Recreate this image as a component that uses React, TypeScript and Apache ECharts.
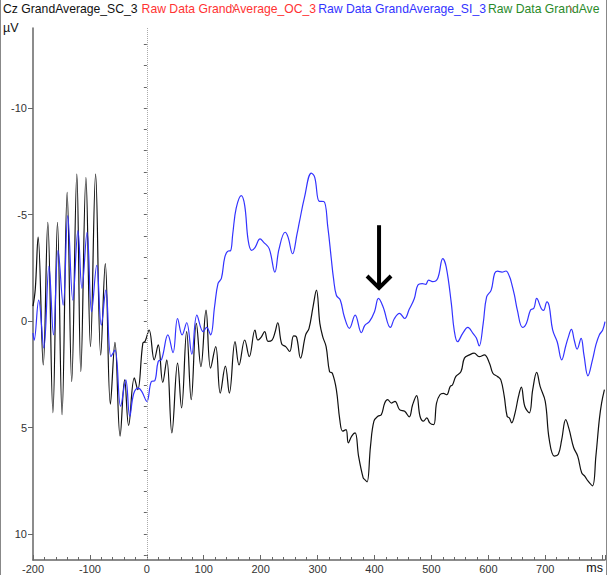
import React, { useEffect, useRef } from 'react';
import * as echarts from 'echarts';

const legendNames = ['Cz GrandAverage_SC_3', 'Raw Data GrandAverage_OC_3', 'Raw Data GrandAverage_SI_3', 'Raw Data GrandAve'];
const legendColors = ['#111111', '#ff3333', '#3333ff', '#2a8a2a'];
const yMajorTicks = [-10, -5, 0, 5, 10];
const yMinorTicks = [-13, -12, -11, -10, -9, -8, -7, -6, -5, -4, -3, -2, -1, 0, 1, 2, 3, 4, 5, 6, 7, 8, 9, 10, 11];
const xRange = [-200, 805];
const yRange = [-13.76, 11.22];

// [ms, µV]
const seriesSC: [number, number][] = [
  [-200,-0.7],[-196,-1.5],[-191,-3.94],[-182,2.06],[-174,-4.64],[-165,4.3],[-157,-4.64],[-149,4.4],[-140,-6.04],[-132,2.84],
  [-123,-6.9],[-116,2.37],[-107,-6.74],[-99,1.2],[-90,-6.9],[-81,1.6],[-73,-2.7],[-64,3.9],[-56,1.0],[-47,5.4],
  [-39,2.76],[-32,4.9],[-22,2.67],[-16,3.22],[-7,1.04],[-3,0.95],[4,0.42],[13,1.82],[20,1.12],[28,2.88],
  [35,1.82],[44,5.25],[54,1.98],[61,4.08],[70,0.5],[78,3.69],[87,0.11],[95,2.14],[104,-0.51],[112,2.21],
  [121,1.2],[129,3.38],[138,2.12],[145,3.38],[155,0.97],[162,2.06],[172,0.89],[180,1.67],[190,0.42],[195,0.89],
  [201,0.75],[207,0.5],[213,0.95],[220,0.89],[225,0.55],[230,0.08],[237,1.08],[244,1.2],[251,1.43],[258,0.7],
  [263,0.75],[270,1.74],[279,0.65],[285,0.34],[292,-0.67],[298,-1.45],[304,0.11],[309,0.73],[315,1.2],[321,2.37],
  [326,2.45],[333,3.22],[339,4.63],[344,5.17],[350,5.1],[354,5.72],[360,5.4],[366,5.25],[372,6.34],[380,7.35],
  [383,7.45],[387,7.55],[393,5.87],[399,4.7],[406,4.47],[412,4.4],[418,3.85],[423,3.69],[430,3.85],[436,3.77],
  [444,4.16],[453,4.24],[461,4.5],[467,3.93],[474,3.5],[480,4.47],[486,4.7],[492,4.55],[497,4.78],[504,4.86],
  [509,3.85],[515,3.46],[521,3.4],[527,3.46],[533,3.07],[537,3.0],[543,2.6],[552,2.37],[558,1.74],[567,1.59],
  [575,1.51],[584,1.67],[593,1.59],[602,1.98],[608,2.45],[616,2.6],[622,2.76],[628,3.54],[633,4.47],[637,4.55],
  [641,4.78],[647,4.31],[653,3.54],[658,3.1],[664,4.0],[672,4.31],[678,3.22],[685,2.41],[691,3.07],[700,3.77],
  [707,5.56],[716,6.34],[723,6.26],[729,5.56],[736,4.63],[742,5.09],[750,5.95],[757,6.34],[764,7.12],[770,7.3],
  [775,7.51],[783,7.74],[789,6.34],[795,4.63],[799,3.85],[804,3.22]
];

const seriesSI: [number, number][] = [
  [-200,0.56],[-198,0.9],[-190,-0.98],[-181,1.26],[-172,-2.57],[-164,0.65],[-156,-3.32],[-147,-0.75],[-139,-4.95],[-130,-0.98],
  [-121,-4.25],[-114,-1.54],[-105,-4.17],[-97,-0.44],[-88,-2.62],[-80,0.19],[-72,-1.45],[-63,1.67],[-56,1.36],[-46,4.0],
  [-37,2.76],[-30,4.47],[-23,3.4],[-15,3.15],[-9,3.3],[0,3.77],[8,2.84],[14,2.8],[20,1.9],[26,1.8],
  [37,0.65],[46,1.48],[54,-0.12],[62,0.65],[70,0.08],[79,1.55],[88,-0.28],[99,0.5],[105,0.3],[112,0.65],
  [119,-0.67],[125,-1.76],[131,-2.0],[137,-3.0],[143,-3.29],[147,-3.3],[151,-4.1],[157,-5.3],[166,-5.89],[172,-5.42],
  [178,-3.8],[184,-3.32],[190,-3.45],[199,-3.86],[205,-3.71],[215,-3.4],[225,-2.3],[232,-3.35],[243,-4.17],[248,-3.95],
  [256,-3.16],[264,-4.1],[268,-4.64],[277,-5.81],[289,-6.95],[295,-6.75],[303,-5.62],[311,-5.61],[318,-4.41],[324,-2.95],
  [328,-2.0],[333,-1.21],[340,-0.98],[347,-0.2],[356,0.34],[366,-0.28],[377,0.55],[383,0.2],[391,0.03],[400,-0.44],
  [407,-1.06],[415,-0.67],[428,0.3],[435,-0.12],[444,-0.36],[453,-0.12],[461,-0.55],[470,-1.06],[476,-1.68],[484,-1.76],
  [490,-1.72],[495,-1.92],[502,-1.85],[511,-2.0],[520,-2.93],[526,-2.54],[535,-0.83],[540,0.42],[546,0.97],[555,0.58],
  [564,0.3],[573,0.58],[579,0.8],[584,1.17],[591,0.11],[597,-1.14],[605,-1.45],[611,-2.23],[616,-2.34],[624,-2.3],
  [631,-2.35],[637,-2.1],[641,-1.76],[646,-1.2],[651,-0.51],[660,0.3],[667,0.1],[674,-0.51],[680,-0.6],[685,-1.06],
  [693,-0.59],[697,-0.5],[703,-0.9],[707,-0.7],[713,0.42],[721,0.97],[729,1.82],[736,1.17],[740,0.8],[746,0.39],
  [751,0.9],[756,1.32],[763,0.81],[768,1.59],[775,2.57],[783,1.82],[789,1.12],[795,0.65],[801,0.42],[805,0.03]
];

// arrow annotation: [ms, top µV, tip µV]
const arrowData: [number, number, number][] = [[408, -4.5, -1.55]];

const FONT = "'Liberation Sans', Arial, sans-serif";

export default function App() {
  const ref = useRef<HTMLDivElement>(null);
  useEffect(() => {
    document.body.style.margin = '0';
    if (!ref.current) return;
    const chart = echarts.init(ref.current, undefined, { renderer: 'svg' });
    const axisColor = '#666';
    const labelColor = '#333';
    const richStyles: any = {};
    legendNames.forEach((_, i) => {
      richStyles['s' + i] = { fill: legendColors[i], font: `12.2px ${FONT}`, padding: [0, i === 0 ? 4 : 2, 0, 0] };
    });
    const titleText = legendNames.map((n, i) => `{s${i}|${n}}`).join('');
    chart.setOption({
      animation: false,
      backgroundColor: '#ffffff',
      grid: { left: 33, right: 2, top: 28, bottom: 15, containLabel: false },
      xAxis: {
        type: 'value',
        min: xRange[0],
        max: xRange[1],
        interval: 100,
        axisLine: { show: true, onZero: false, lineStyle: { color: axisColor, width: 1.5 } },
        axisTick: { show: true, inside: true, length: 5, lineStyle: { color: axisColor } },
        minorTick: { show: true, splitNumber: 5, length: 3, lineStyle: { color: axisColor } },
        splitLine: { show: false },
        minorSplitLine: { show: false },
        axisLabel: {
          color: labelColor,
          fontSize: 11,
          fontFamily: FONT,
          margin: 3,
          formatter: (v: number) => (v >= 800 ? '' : String(v)),
        },
      },
      yAxis: [
        {
          type: 'value',
          inverse: true,
          min: yRange[0],
          max: yRange[1],
          axisLine: { show: true, onZero: false, lineStyle: { color: axisColor, width: 1.5 } },
          axisTick: { show: true, length: 5, customValues: yMajorTicks, lineStyle: { color: axisColor } },
          splitLine: { show: false },
          axisLabel: { color: labelColor, fontSize: 11, fontFamily: FONT, margin: 6, customValues: yMajorTicks },
        },
        {
          type: 'value',
          inverse: true,
          min: yRange[0],
          max: yRange[1],
          position: 'left',
          axisLine: { show: false },
          axisTick: { show: true, length: 3, customValues: yMinorTicks, lineStyle: { color: axisColor } },
          splitLine: { show: false },
          axisLabel: { show: false },
        },
      ],
      graphic: [
        {
          type: 'text',
          left: 3,
          top: 3,
          style: { text: titleText, rich: richStyles, font: `12.2px ${FONT}` },
        },
        {
          type: 'text',
          left: 3,
          top: 21,
          style: { text: 'µV', fill: '#111', font: `12.5px ${FONT}` },
        },
        {
          type: 'text',
          right: 5,
          bottom: 1,
          style: { text: 'ms', fill: '#111', font: `12.5px ${FONT}` },
        },
        { type: 'line', shape: { x1: 232, y1: 5, x2: 236, y2: 12 }, style: { stroke: '#e06060', lineWidth: 1 } },
        { type: 'line', shape: { x1: 569, y1: 5, x2: 573, y2: 12 }, style: { stroke: '#e06060', lineWidth: 1 } },
        { type: 'line', shape: { x1: 0.5, y1: 0, x2: 0.5, y2: 575 }, style: { stroke: '#888', lineWidth: 1 } },
        { type: 'line', shape: { x1: 606.5, y1: 0, x2: 606.5, y2: 575 }, style: { stroke: '#888', lineWidth: 1 } },
      ],
      series: [
        {
          name: legendNames[0],
          type: 'line',
          data: seriesSC,
          showSymbol: false,
          smooth: 0.4,
          lineStyle: { color: '#111', width: 1.2 },
          z: 3,
          markLine: {
            silent: true,
            symbol: 'none',
            label: { show: false },
            lineStyle: { color: '#aaa', type: 'dotted', width: 1 },
            data: [{ xAxis: 0 }],
          },
        },
        {
          name: legendNames[2],
          type: 'line',
          data: seriesSI,
          showSymbol: false,
          smooth: 0.4,
          lineStyle: { color: '#3333ff', width: 1.2 },
          z: 4,
        },
        {
          type: 'custom',
          data: arrowData,
          z: 5,
          renderItem: (params: any, api: any) => {
            const top = api.coord([api.value(0), api.value(1)]);
            const tip = api.coord([api.value(0), api.value(2)]);
            return {
              type: 'group',
              children: [
                {
                  type: 'line',
                  shape: { x1: tip[0], y1: top[1], x2: tip[0], y2: tip[1] - 2 },
                  style: { stroke: '#000', lineWidth: 4 },
                },
                {
                  type: 'polyline',
                  shape: { points: [[tip[0] - 12, tip[1] - 12], [tip[0], tip[1]], [tip[0] + 12, tip[1] - 12]] },
                  style: { stroke: '#000', lineWidth: 4, fill: null },
                },
              ],
            };
          },
        },
      ],
    });
    return () => chart.dispose();
  }, []);
  return <div ref={ref} style={{ position: 'fixed', left: 0, top: 0, width: 608, height: 575 }} />;
}
